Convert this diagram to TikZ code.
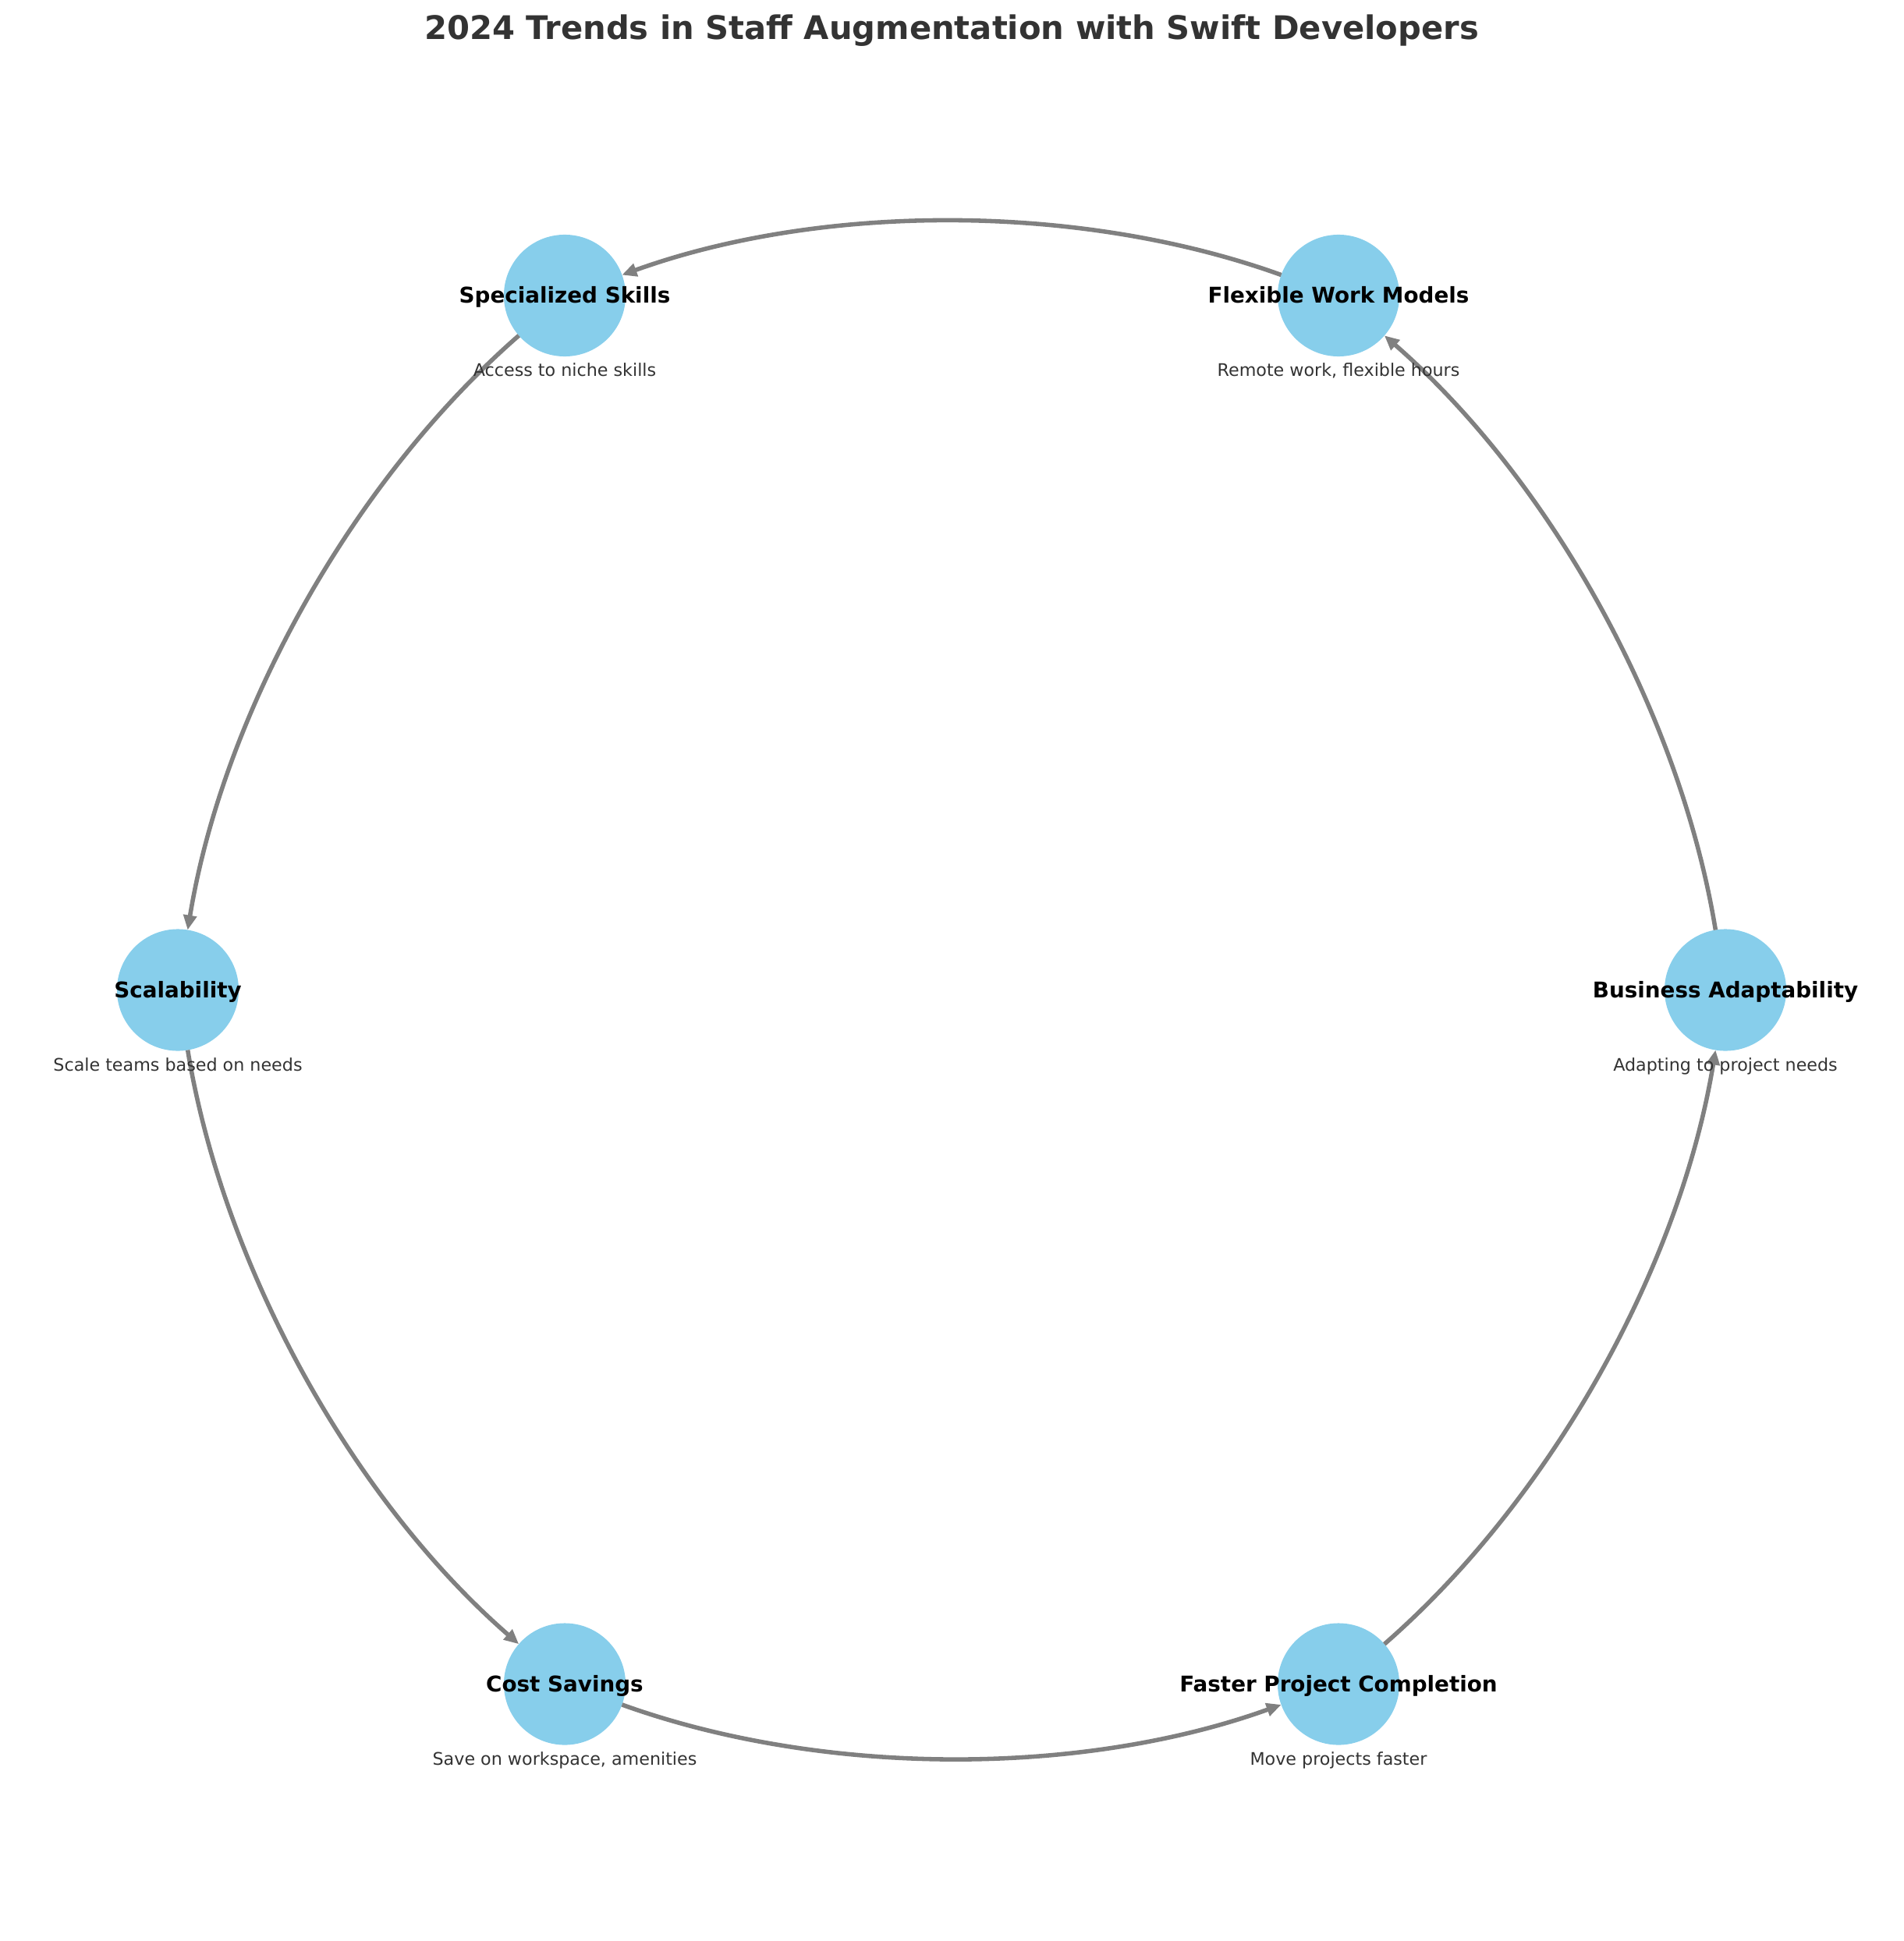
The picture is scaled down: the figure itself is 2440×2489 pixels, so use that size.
\documentclass[tikz,border=0pt]{standalone}
\usepackage{fontspec}
\setmainfont{DejaVu Sans}
\usetikzlibrary{arrows.meta,calc}
\definecolor{nodeblue}{HTML}{87CEEB}
\definecolor{darktext}{HTML}{333333}
\definecolor{edgegray}{HTML}{808080}
\newcommand{\flowarc}[2]{\draw[flow] (#1) .. controls ($(#1)!0.354!-19.8:(#2)$) and ($(#2)!0.354!19.8:(#1)$) .. (#2);}
\begin{document}
\begin{tikzpicture}[x=0.36pt,y=0.36pt,
  trend/.style={circle,fill=nodeblue,draw=none,minimum size=56.2pt,inner sep=0pt,outer sep=0pt},
  lbl/.style={anchor=base,font=\fontsize{10}{12}\selectfont\bfseries,text=black,inner sep=0pt},
  desc/.style={anchor=base,font=\fontsize{8}{10}\selectfont,text=darktext,inner sep=0pt},
  flow/.style={draw=edgegray,line width=2pt,-{Triangle[length=6.8pt,width=6pt]}}]
\path[use as bounding box] (0,0) rectangle (2440,-2489);
\node[anchor=base,font=\fontsize{15}{18}\selectfont\bfseries,text=darktext,inner sep=0pt] (title) at (1220,-51) {2024 Trends in Staff Augmentation with Swift Developers};

\node[trend] (ss) at (724,-379) {};
\node[trend] (fw) at (1716,-379) {};
\node[trend] (ba) at (2212,-1269.5) {};
\node[trend] (fp) at (1716,-2159.5) {};
\node[trend] (cs) at (724,-2159.5) {};
\node[trend] (sc) at (228,-1269.5) {};

\flowarc{fw}{ss}
\flowarc{ss}{sc}
\flowarc{sc}{cs}
\flowarc{cs}{fp}
\flowarc{fp}{ba}
\flowarc{ba}{fw}

\node[lbl] (ssl) at (724,-388.5) {Specialized Skills};
\node[lbl] (fwl) at (1716,-388.5) {Flexible Work Models};
\node[lbl] (bal) at (2212,-1279) {Business Adaptability};
\node[lbl] (fpl) at (1716,-2169) {Faster Project Completion};
\node[lbl] (csl) at (724,-2169) {Cost Savings};
\node[lbl] (scl) at (228,-1279) {Scalability};

\node[desc] (ssd) at (724,-483) {Access to niche skills};
\node[desc] (fwd) at (1716,-483) {Remote work, flexible hours};
\node[desc] (bad) at (2212,-1373.5) {Adapting to project needs};
\node[desc] (fpd) at (1716,-2263.5) {Move projects faster};
\node[desc] (csd) at (724,-2263.5) {Save on workspace, amenities};
\node[desc] (scd) at (228,-1373.5) {Scale teams based on needs};
\end{tikzpicture}
\end{document}
